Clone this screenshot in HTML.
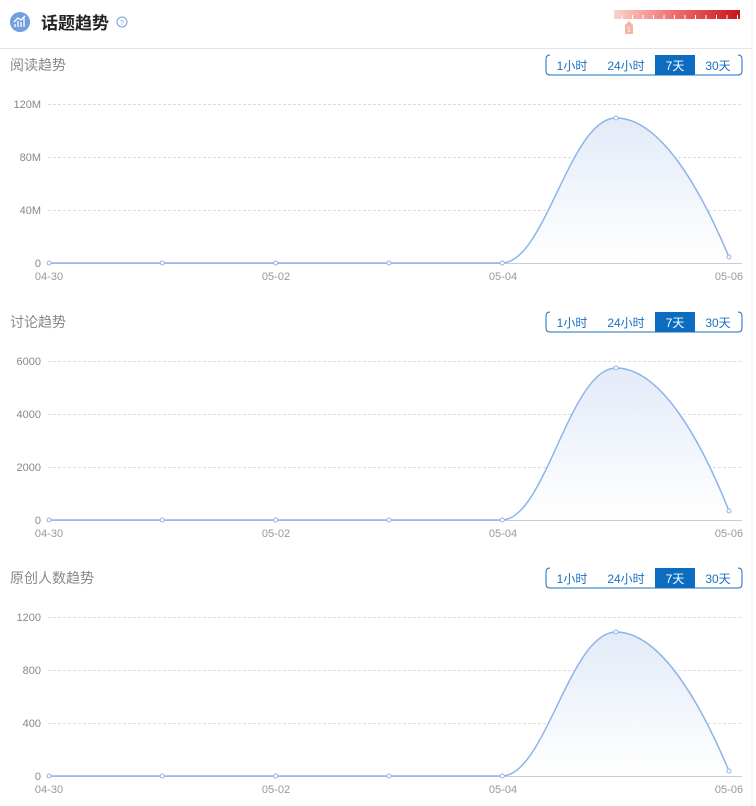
<!DOCTYPE html>
<html><head><meta charset="utf-8"><style>
body{margin:0;background:#fff;width:756px;height:806px;overflow:hidden}
svg{display:block;font-family:"Liberation Sans","Noto Sans CJK SC",sans-serif}
</style></head><body>
<svg id="s" width="756" height="806" viewBox="0 0 756 806">
<defs>
<linearGradient id="bar" x1="0" x2="1"><stop offset="0" stop-color="#fbd3cc"/><stop offset="0.5" stop-color="#ee6b6b"/><stop offset="1" stop-color="#c7141b"/></linearGradient>
<linearGradient id="area" x1="0" y1="0" x2="0" y2="1"><stop offset="0" stop-color="#e3ebf8"/><stop offset="1" stop-color="#ffffff"/></linearGradient>
</defs>
<line x1="752" y1="0" x2="752" y2="806" stroke="#eee"/>
<circle cx="20" cy="22" r="10" fill="#6f9fe0"/>
<path d="M15 27V24M18 27V21M21 27V22M24 27V18M14 22L18 18L21 20L25 16" stroke="#fff" stroke-width="1.3" fill="none"/>
<text x="41" y="29" font-size="17" font-weight="bold" fill="#222">话题趋势</text>
<circle cx="122" cy="22" r="5" fill="none" stroke="#6f9fe0" stroke-width="1"/>
<text x="122" y="25" font-size="7" fill="#6f9fe0" text-anchor="middle">?</text>
<rect x="614" y="10" width="126" height="9" fill="url(#bar)"/>
<g id="ticks"></g>
<path d="M625 25L629 21L633 25V34H625Z" fill="#f6b3a8"/>
<text x="629" y="32" font-size="7" fill="#fff" text-anchor="middle">1</text>
<line x1="0" y1="48.5" x2="752" y2="48.5" stroke="#e5e5e5"/>
<g id="charts"></g>
</svg>
<script>
var s=document.getElementById('charts'),h='';
var tk='';for(var i=0;i<12;i++){var x=622+i*10.5;tk+='<line x1="'+x+'" y1="15" x2="'+x+'" y2="19" stroke="#fff" stroke-width="1"/>';}
document.getElementById('ticks').innerHTML=tk;
var C=[{t:'阅读趋势',o:0,l:['0','40M','80M','120M'],pk:118,end:257},
{t:'讨论趋势',o:257,l:['0','2000','4000','6000'],pk:368-257,end:511-257},
{t:'原创人数趋势',o:513,l:['0','400','800','1200'],pk:632-513,end:771-513}];
C.forEach(function(c){var o=c.o;
h+='<text x="10" y="'+(70+o)+'" font-size="14" fill="#888">'+c.t+'</text>';
var by=55+o;
h+='<path d="M550 '+by+'Q546 '+by+' 546 '+(by+4)+'V'+(by+16)+'Q546 '+(by+20)+' 550 '+(by+20)+'H738Q742 '+(by+20)+' 742 '+(by+16)+'V'+(by+4)+'Q742 '+by+' 738 '+by+'" fill="none" stroke="#1a6fc0" stroke-width="1"/>';
h+='<rect x="655" y="'+by+'" width="40" height="20" fill="#0b6cc0"/>';
h+='<text x="572" y="'+(by+15)+'" font-size="12" fill="#1a6fc0" text-anchor="middle">1小时</text>';
h+='<text x="626" y="'+(by+15)+'" font-size="12" fill="#1a6fc0" text-anchor="middle">24小时</text>';
h+='<text x="675" y="'+(by+15)+'" font-size="12" fill="#fff" text-anchor="middle">7天</text>';
h+='<text x="718" y="'+(by+15)+'" font-size="12" fill="#1a6fc0" text-anchor="middle">30天</text>';
for(var i=0;i<4;i++){var y=263-i*53+o;
h+='<line x1="48" y1="'+(y+.5)+'" x2="742" y2="'+(y+.5)+'" stroke="'+(i?'#ddd':'#ccc')+'" stroke-dasharray="'+(i?'3,2':'')+'"/>';
h+='<text x="41" y="'+(y+4)+'" font-size="11" fill="#888" text-anchor="end">'+c.l[i]+'</text>';}
var b=263+o,p=c.pk+o,e=c.end+o;
var d='M49 '+b+'L502 '+b+'C545 '+b+' 570 '+p+' 616 '+p+'C660 '+p+' 700 '+(p+70)+' 729 '+e;
h+='<path d="'+d+'L729 '+b+'Z" fill="url(#area)"/>';
h+='<path d="'+d+'" fill="none" stroke="#8fb4ea" stroke-width="1.5"/>';
var xs=[49,162.3,275.7,389,502.3,616,729],ys=[b,b,b,b,b,p,e];
for(var i=0;i<7;i++)h+='<circle cx="'+xs[i]+'" cy="'+ys[i]+'" r="2" fill="#fff" stroke="#8fb4ea" stroke-width="1"/>';
[[49,'04-30'],[276,'05-02'],[503,'05-04'],[729,'05-06']].forEach(function(q){
h+='<text x="'+q[0]+'" y="'+(b+17)+'" font-size="11" fill="#999" text-anchor="middle">'+q[1]+'</text>';});
});
s.innerHTML=h;
</script>
</body></html>
